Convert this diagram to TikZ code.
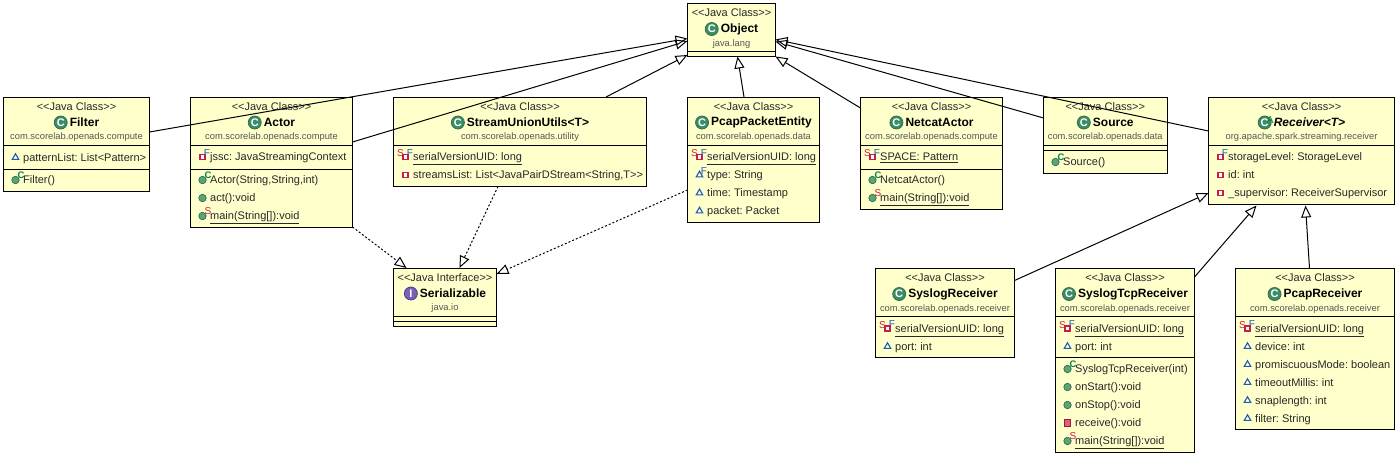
\documentclass[tikz,border=0pt]{standalone}
\usepackage{fontspec}
\setmainfont{Liberation Sans}
\usepackage{xcolor}
\usetikzlibrary{positioning,calc,arrows.meta,shapes.geometric}
\definecolor{NoteYellow}{RGB}{255,255,204}
\definecolor{TextGrey}{RGB}{40,40,40}
\definecolor{PkgGrey}{RGB}{85,85,85}
\definecolor{ClassGreen}{RGB}{60,140,100}
\definecolor{MethodGreen}{RGB}{90,165,115}
\definecolor{FlagGreen}{RGB}{0,130,70}
\definecolor{IfacePurple}{RGB}{95,70,170}
\definecolor{FieldBlue}{RGB}{30,90,170}
\definecolor{FieldRed}{RGB}{200,30,70}
\newcommand{\jclass}{<{}<Java Class>{}>}
\newcommand{\jiface}{<{}<Java Interface>{}>}

\begin{document}
\frenchspacing
\begin{tikzpicture}[
		x=1pt, y=-1pt,
		box/.style={draw, line width=1pt, fill=NoteYellow, anchor=north west, outer sep=0pt, inner sep=0pt},
		stereotext/.style={font=\fontsize{11}{13}\selectfont, text=TextGrey, inner sep=0pt},
		nametext/.style={font=\fontsize{12}{14}\selectfont\bfseries, inner sep=0pt},
		pkgtext/.style={font=\fontsize{9.35}{11}\selectfont, text=PkgGrey, inner sep=0pt},
		rowtext/.style={font=\fontsize{11}{13}\selectfont, text=TextGrey, anchor=west, inner sep=0pt, text height=8pt, text depth=2.5pt, yshift=-1.2pt},
		% ===== class icons =====
		bigicon/.style={circle, line width=.8pt, text=white, inner sep=0pt, minimum size=13pt, font=\fontsize{11}{11}\selectfont\bfseries},
		cicon/.style={bigicon, draw=ClassGreen!80!black, fill=ClassGreen},
		iicon/.style={bigicon, draw=IfacePurple!80!black, fill=IfacePurple!85},
		flag/.style={font=\fontsize{10}{10}\selectfont, inner sep=0pt, anchor=center},
		aicon/.style={cicon, label={[flag, text=FlagGreen, xshift=5.5pt, yshift=2.5pt]center:A}},
		% ===== member icons =====
		pkg/.style={regular polygon, regular polygon sides=3, draw=FieldBlue, fill=NoteYellow!30, line width=1.1pt, inner sep=0pt, minimum size=7.5pt},
		pkgF/.style={pkg, label={[flag, text=FieldBlue, xshift=4.5pt, yshift=4pt]center:F}},
		priv/.style={rectangle, draw=FieldRed, fill=white, line width=1.2pt, inner sep=0pt, minimum size=5pt},
		privF/.style={priv, label={[flag, text=FieldBlue, xshift=4.5pt, yshift=4pt]center:F}},
		privSF/.style={privF, label={[flag, text=FieldRed, xshift=-5pt, yshift=3.5pt]center:S}},
		privm/.style={rectangle, draw=FieldRed!80!black, fill=FieldRed!70, line width=.6pt, inner sep=0pt, minimum size=6.5pt},
		pub/.style={circle, draw=ClassGreen!70!black, fill=MethodGreen, line width=.6pt, inner sep=0pt, minimum size=7.5pt},
		pubC/.style={pub, label={[flag, text=FlagGreen, font=\fontsize{9.5}{10}\selectfont\bfseries, xshift=5.5pt, yshift=4.5pt]center:C}},
		pubS/.style={pub, label={[flag, text=FieldRed, xshift=5.5pt, yshift=4.5pt]center:S}},
		% ===== connectors =====
		extends/.style={line width=1pt, -{Triangle[open, length=12pt, width=10pt]}},
		implements/.style={extends, dash pattern=on 2pt off 2pt},
		]
		
		% ===== boxes =====
		\foreach \id/\xpos/\ypos/\w/\h/\icon/\iconletter/\kindname/\ttl/\pkgname in {
			Object/687.5/3.5/88/52.5/cicon/C/\jclass/Object/java.lang,
			Filter/3.5/97/146/94/cicon/C/\jclass/Filter/com.scorelab.openads.compute,
			Actor/190.5/97/162/130/cicon/C/\jclass/Actor/com.scorelab.openads.compute,
			Stream/393.5/97/253/89.5/cicon/C/\jclass/StreamUnionUtils<T>/com.scorelab.openads.utility,
			Pcap/687.5/97/132/125/cicon/C/\jclass/PcapPacketEntity/com.scorelab.openads.data,
			Netcat/860.5/97/142/112/cicon/C/\jclass/NetcatActor/com.scorelab.openads.compute,
			Source/1043.5/97/123.5/76/cicon/C/\jclass/Source/com.scorelab.openads.data,
			Receiver/1208.5/97/186/107.5/aicon/C/\jclass/\textit{Receiver<T>}/org.apache.spark.streaming.receiver,
			Serial/393.5/268/103/58/iicon/I/\jiface/Serializable/java.io,
			Syslog/875.5/268.5/139/88.5/cicon/C/\jclass/SyslogReceiver/com.scorelab.openads.receiver,
			SyslogTcp/1055.5/268.5/139/183.5/cicon/C/\jclass/SyslogTcpReceiver/com.scorelab.openads.receiver,
			PcapRecv/1235.5/268.5/159/160.5/cicon/C/\jclass/PcapReceiver/com.scorelab.openads.receiver}{
			\node[box, minimum width=\w pt, minimum height=\h pt] (\id) at (\xpos,\ypos) {};
			\node[stereotext] (\id-stereo) at ($(\id.north)+(0,9.5)$) {\kindname};
			\node[nametext] (\id-name) at ($(\id.north)+(8,25.5)$) {\ttl};
			\node[\icon, left=2pt of \id-name] (\id-icon) {\iconletter};
			\node[pkgtext] (\id-pkg) at ($(\id.north)+(0,40.5)$) {\pkgname};
		}
		
		% ===== compartment lines =====
		\foreach \id/\off in {Object/48, Filter/48, Filter/72, Actor/48, Actor/72, Stream/48, Pcap/48,
			Netcat/48, Netcat/72, Source/48.5, Source/53, Receiver/48, Serial/48, Serial/53.5,
			Syslog/48, SyslogTcp/48, SyslogTcp/89, PcapRecv/48}{
			\draw[line width=1pt] ($(\id.north west)+(0,\off)$) -- ($(\id.north east)+(0,\off)$);
		}
		
		% ===== members =====
		\foreach \id/\off/\kind/\txt [count=\i from 1] in {
			Filter/60.5/pkg/{patternList: List<Pattern>},
			Filter/83/pubC/{Filter()},
			Actor/60/privF/{jssc: JavaStreamingContext},
			Actor/83/pubC/{Actor(String,String,int)},
			Actor/101/pub/{act():void},
			Actor/119/pubS/{\underline{main(String[]):void}},
			Stream/60/privSF/{\underline{serialVersionUID: long}},
			Stream/78/priv/{streamsList: List<JavaPairDStream<String,T>{}>},
			Pcap/60/privSF/{\underline{serialVersionUID: long}},
			Pcap/78/pkgF/{type: String},
			Pcap/96/pkg/{time: Timestamp},
			Pcap/114/pkg/{packet: Packet},
			Netcat/60/privSF/{\underline{SPACE: Pattern}},
			Netcat/83/pubC/{NetcatActor()},
			Netcat/101/pubS/{\underline{main(String[]):void}},
			Source/65/pubC/{Source()},
			Receiver/60/privF/{storageLevel: StorageLevel},
			Receiver/78/priv/{id: int},
			Receiver/96/priv/{\_supervisor: ReceiverSupervisor},
			Syslog/60/privSF/{\underline{serialVersionUID: long}},
			Syslog/78/pkg/{port: int},
			SyslogTcp/60/privSF/{\underline{serialVersionUID: long}},
			SyslogTcp/78/pkg/{port: int},
			SyslogTcp/100.5/pubC/{SyslogTcpReceiver(int)},
			SyslogTcp/118.5/pub/{onStart():void},
			SyslogTcp/136.5/pub/{onStop():void},
			SyslogTcp/154.5/privm/{receive():void},
			SyslogTcp/172.5/pubS/{\underline{main(String[]):void}},
			PcapRecv/60/privSF/{\underline{serialVersionUID: long}},
			PcapRecv/78/pkg/{device: int},
			PcapRecv/96/pkg/{promiscuousMode: boolean},
			PcapRecv/114/pkg/{timeoutMillis: int},
			PcapRecv/132/pkg/{snaplength: int},
			PcapRecv/150/pkg/{filter: String}}{
			\node[\kind] (icon\i) at ($(\id.north west)+(12,\off)$) {};
			\node[rowtext] (row\i) at ($(\id.north west)+(19.5,\off)$) {\txt};
		}
		
		% ===== inheritance =====
		\draw[extends] ($(Filter.north east)+(0,35)$) -- ($(Object.north west)+(0,35)$);
		\draw[extends] ($(Actor.north east)+(0,45)$) -- ($(Object.north west)+(0,37.5)$);
		\draw[extends] ($(Stream.north west)+(212.5,0)$) -- ($(Object.north west)+(0,51.5)$);
		\draw[extends] ($(Pcap.north west)+(56.5,0)$) -- ($(Object.south west)+(50,.5)$);
		\draw[extends] ($(Netcat.north west)+(0,11)$) -- ($(Object.south east)+(0,.5)$);
		\draw[extends] ($(Source.north west)+(0,21)$) -- ($(Object.north east)+(0,38)$);
		\draw[extends] ($(Receiver.north west)+(0,34)$) -- ($(Object.north east)+(0,36)$);
		\draw[extends] ($(Syslog.north east)+(0,12)$) -- ($(Receiver.north west)+(0,96)$);
		\draw[extends] ($(SyslogTcp.north east)+(0,8.5)$) -- ($(Receiver.south west)+(48,1)$);
		\draw[extends] ($(PcapRecv.north west)+(74,0)$) -- ($(Receiver.south west)+(97,1)$);
		
		% ===== interface =====
		\draw[implements] (Actor.south east) -- ($(Serial.north west)+(13,0)$);
		\draw[implements] ($(Stream.south west)+(104.5,0)$) -- ($(Serial.north west)+(66,0)$);
		\draw[implements] ($(Pcap.north west)+(0,93)$) -- ($(Serial.north east)+(0,6)$);
		
		\useasboundingbox (0,0) rectangle (1398,456);
	\end{tikzpicture}
\end{document}
